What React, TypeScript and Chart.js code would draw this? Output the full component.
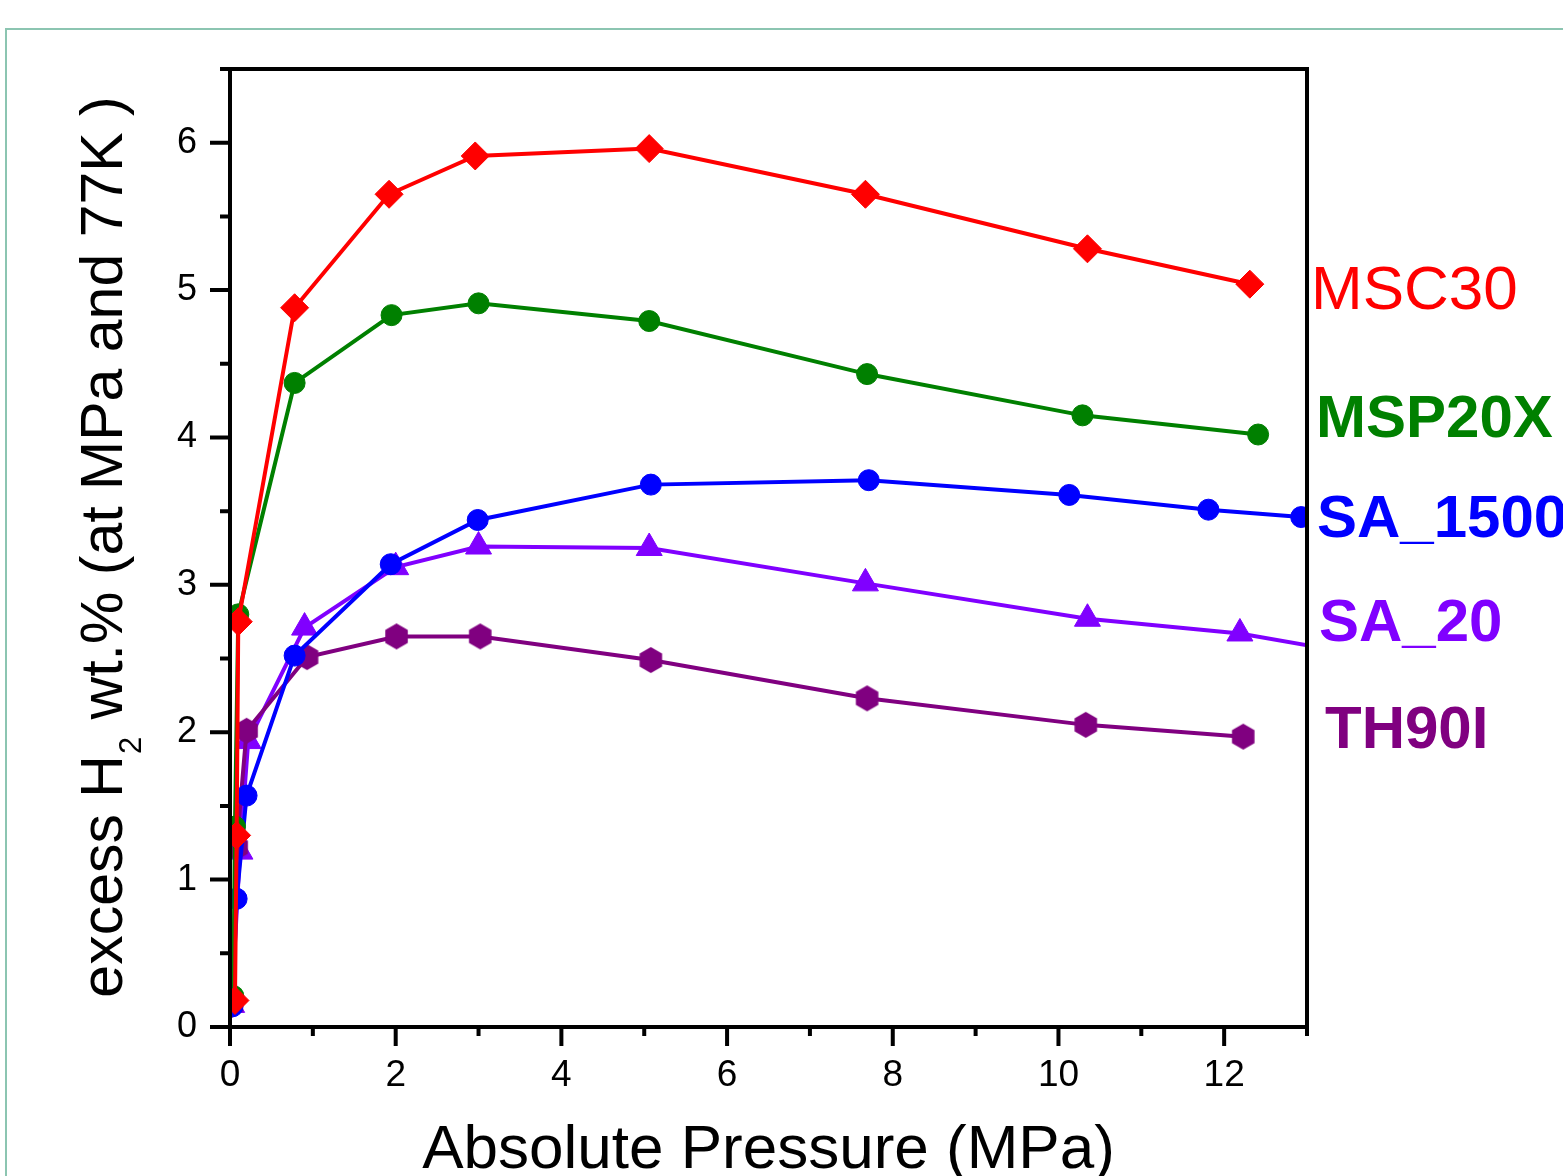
import React, { useEffect, useRef } from "react";
import { Chart, registerables } from "chart.js";

Chart.register(...registerables);

// ---- data (pressure in MPa, excess H2 wt.%) ----
const msc30X = [0.06, 0.08, 0.1, 0.78, 1.92, 2.96, 5.06, 7.67, 10.35, 12.31];
const msc30Y = [0.18, 1.3, 2.75, 4.88, 5.65, 5.91, 5.96, 5.65, 5.28, 5.04];

const msp20xX = [0.04, 0.06, 0.1, 0.78, 1.95, 3.0, 5.06, 7.69, 10.29, 12.41];
const msp20xY = [0.21, 1.36, 2.8, 4.37, 4.83, 4.91, 4.79, 4.43, 4.15, 4.02];

const sa1500X = [0.03, 0.08, 0.2, 0.78, 1.94, 2.99, 5.08, 7.71, 10.13, 11.81, 12.93];
const sa1500Y = [0.14, 0.87, 1.57, 2.52, 3.14, 3.44, 3.68, 3.71, 3.61, 3.51, 3.46];

const sa20X = [0.02, 0.12, 0.22, 0.9, 2.0, 3.0, 5.06, 7.67, 10.35, 12.19, 13.4];
const sa20Y = [0.15, 1.19, 1.94, 2.71, 3.12, 3.26, 3.25, 3.01, 2.77, 2.67, 2.55];

const th90iX = [0.02, 0.08, 0.2, 0.93, 2.01, 3.02, 5.08, 7.69, 10.33, 12.23];
const th90iY = [0.15, 1.22, 2.01, 2.51, 2.65, 2.65, 2.49, 2.23, 2.05, 1.97];

const seriesNames = ["MSC30", "MSP20X", "SA_1500", "SA_20", "TH90I"];
const seriesColors = ["#ff0000", "#008000", "#0000ff", "#8000ff", "#800080"];

const xTickLabels = ["0", "2", "4", "6", "8", "10", "12"];
const yTickLabels = ["0", "1", "2", "3", "4", "5", "6"];

const xTitle = "Absolute Pressure (MPa)";
const yTitleParts = ["excess H", "2", " wt.% (at MPa and 77K )"];

const FONT = "'Liberation Sans', Arial, Helvetica, sans-serif";

function toPoints(xs: number[], ys: number[]) {
  return xs.map((x, i) => ({ x, y: ys[i] }));
}

function makeHexagon(color: string, r: number) {
  const c = document.createElement("canvas");
  const w = Math.ceil(r * Math.sqrt(3)) + 2;
  const h = Math.ceil(r * 2) + 2;
  c.width = w;
  c.height = h;
  const ctx = c.getContext("2d")!;
  ctx.fillStyle = color;
  ctx.beginPath();
  for (let i = 0; i < 6; i++) {
    const a = -Math.PI / 2 + (i * Math.PI) / 3;
    const px = w / 2 + r * Math.cos(a);
    const py = h / 2 + r * Math.sin(a);
    if (i === 0) ctx.moveTo(px, py);
    else ctx.lineTo(px, py);
  }
  ctx.closePath();
  ctx.fill();
  return c;
}

const framePlugin = {
  id: "framePlugin",
  beforeDraw(chart: any) {
    const ctx = chart.ctx;
    ctx.save();
    ctx.fillStyle = "#ffffff";
    ctx.fillRect(0, 0, chart.width, chart.height);
    ctx.strokeStyle = "#8cc5b1";
    ctx.lineWidth = 2;
    ctx.strokeRect(6, 29, chart.width + 20, chart.height + 20);
    ctx.restore();
  },
  afterDraw(chart: any) {
    const ctx = chart.ctx;
    const { left, right, top, bottom } = chart.chartArea;
    const xs = chart.scales.x;
    const ys = chart.scales.y;
    ctx.save();
    ctx.strokeStyle = "#000000";
    ctx.lineWidth = 4;
    ctx.lineCap = "butt";
    // box
    ctx.beginPath();
    ctx.moveTo(left, top);
    ctx.lineTo(right, top);
    ctx.moveTo(right, top - 2);
    ctx.lineTo(right, bottom);
    ctx.moveTo(left, top - 2);
    ctx.lineTo(left, bottom + 2);
    ctx.moveTo(left - 2, bottom);
    ctx.lineTo(right + 2, bottom);
    ctx.stroke();
    // x ticks
    ctx.beginPath();
    xs.ticks.forEach((t: any) => {
      const px = xs.getPixelForValue(t.value);
      const major = Math.abs(t.value % 2) < 1e-6;
      ctx.moveTo(px, bottom);
      ctx.lineTo(px, bottom + (major ? 19 : 9));
    });
    // y ticks
    ys.ticks.forEach((t: any) => {
      const py = ys.getPixelForValue(t.value);
      const major = Math.abs(t.value % 1) < 1e-6;
      ctx.moveTo(left, py);
      ctx.lineTo(left - (major ? 20 : 10), py);
    });
    ctx.stroke();

    // y axis title with subscript
    ctx.fillStyle = "#000000";
    const big = `59px ${FONT}`;
    const small = `31px ${FONT}`;
    ctx.font = big;
    const w0 = ctx.measureText(yTitleParts[0]).width;
    const w2 = ctx.measureText(yTitleParts[2]).width;
    ctx.font = small;
    const w1 = ctx.measureText(yTitleParts[1]).width;
    const total = w0 + w1 + w2;
    const cy = (top + bottom) / 2;
    ctx.translate(122, cy);
    ctx.rotate(-Math.PI / 2);
    ctx.textBaseline = "alphabetic";
    ctx.textAlign = "left";
    let x0 = -total / 2;
    ctx.font = big;
    ctx.fillText(yTitleParts[0], x0, 0);
    x0 += w0;
    ctx.font = small;
    ctx.fillText(yTitleParts[1], x0 + 1, 19);
    x0 += w1 + 2;
    ctx.font = big;
    ctx.fillText(yTitleParts[2], x0, 0);
    ctx.setTransform(1, 0, 0, 1, 0, 0);

    // series name annotations
    const labels = [
      { text: seriesNames[0], x: right + 4, y: 309, bold: false, size: 62 },
      { text: seriesNames[1], x: right + 9, y: 437, bold: true, size: 60 },
      { text: seriesNames[2], x: right + 10, y: 537, bold: true, size: 60 },
      { text: seriesNames[3], x: right + 12, y: 641, bold: true, size: 60 },
      { text: seriesNames[4], x: right + 18, y: 748, bold: true, size: 60 },
    ];
    labels.forEach((l, i) => {
      ctx.font = `${l.bold ? "bold " : ""}${l.size}px ${FONT}`;
      ctx.fillStyle = seriesColors[i];
      ctx.textAlign = "left";
      ctx.textBaseline = "alphabetic";
      ctx.fillText(l.text, l.x, l.y);
    });
    ctx.restore();
  },
};

export default function App() {
  const ref = useRef<HTMLCanvasElement | null>(null);

  useEffect(() => {
    if (!ref.current) return;
    const hex = makeHexagon(seriesColors[4], 13);
    const xsArr = [msc30X, msp20xX, sa1500X, sa20X, th90iX];
    const ysArr = [msc30Y, msp20xY, sa1500Y, sa20Y, th90iY];
    const styles: any[] = ["rectRot", "circle", "circle", "triangle", hex];
    const radii = [14, 10.5, 10.5, 15, 13];
    // drawing order: first dataset on top
    const order = [0, 1, 2, 4, 3];
    const datasets = order.map((i) => ({
      label: seriesNames[i],
      data: toPoints(xsArr[i], ysArr[i]),
      borderColor: seriesColors[i],
      backgroundColor: seriesColors[i],
      pointBackgroundColor: seriesColors[i],
      pointBorderColor: seriesColors[i],
      pointBorderWidth: 1,
      pointStyle: styles[i],
      pointRadius: radii[i],
      borderWidth: 4,
      tension: 0,
      fill: false,
    }));

    const chart = new Chart(ref.current, {
      type: "line",
      data: { datasets },
      plugins: [framePlugin],
      options: {
        animation: false,
        responsive: false,
        devicePixelRatio: 1,
        layout: { padding: { left: 0, right: 256, top: 69, bottom: 0 } },
        plugins: {
          legend: { display: false },
          tooltip: { enabled: false },
        },
        scales: {
          x: {
            type: "linear",
            min: 0,
            max: 13,
            afterFit: (s: any) => {
              s.height = 149;
            },
            ticks: {
              stepSize: 1,
              padding: 27,
              color: "#000000",
              font: { family: FONT, size: 37 },
              maxRotation: 0,
              autoSkip: false,
              callback: (v: any) => {
                const n = Number(v);
                return Math.abs(n % 2) < 1e-6 ? xTickLabels[n / 2] ?? "" : "";
              },
            },
            grid: { display: true, drawOnChartArea: false, drawTicks: false },
            border: { display: false },
            title: {
              display: true,
              text: xTitle,
              color: "#000000",
              font: { family: FONT, size: 62, lineHeight: 0.8 },
              padding: { top: 0, bottom: 0 },
            },
          },
          y: {
            type: "linear",
            min: 0,
            max: 6.5,
            afterFit: (s: any) => {
              s.width = 230;
            },
            ticks: {
              stepSize: 0.5,
              padding: 33,
              color: "#000000",
              font: { family: FONT, size: 36 },
              autoSkip: false,
              callback: (v: any) => {
                const n = Number(v);
                return Math.abs(n % 1) < 1e-6 ? yTickLabels[n] ?? "" : "";
              },
            },
            grid: { display: true, drawOnChartArea: false, drawTicks: false },
            border: { display: false },
          },
        },
      },
    });
    return () => chart.destroy();
  }, []);

  return (
    <canvas
      ref={ref}
      width={1563}
      height={1176}
      style={{ position: "absolute", left: 0, top: 0, width: 1563, height: 1176 }}
    />
  );
}
